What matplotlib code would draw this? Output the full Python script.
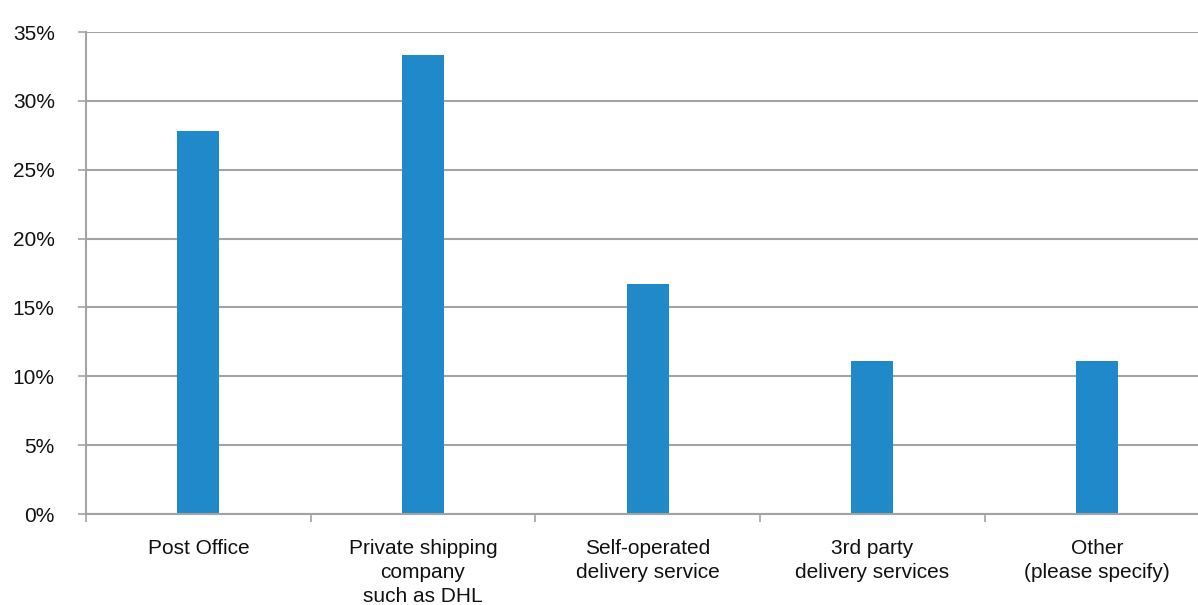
import numpy as np
import matplotlib.pyplot as plt
from matplotlib.ticker import FixedLocator, NullFormatter

# delivery method shares (percent of respondents)
categories = [
    "Post Office",
    "Private shipping\ncompany\nsuch as DHL",
    "Self-operated\ndelivery service",
    "3rd party\ndelivery services",
    "Other\n(please specify)",
]
shares = [27.8, 33.3, 16.7, 11.1, 11.1]
y_ticks = [0, 5, 10, 15, 20, 25, 30, 35]

BAR_COLOR = "#2089ca"
GRID_COLOR = "#a3a3a3"

plt.rcParams["font.family"] = ["Liberation Sans", "DejaVu Sans"]

fig = plt.figure(figsize=(11.98, 6.05), dpi=100)
# axes run a little past the right edge of the figure
ax = fig.add_axes([86 / 1198, 91 / 605, 1123.5 / 1198, 482 / 605])

x = np.arange(len(categories))
ax.bar(x, shares, width=0.187, color=BAR_COLOR, zorder=3)

ax.set_xlim(-0.5, len(categories) - 0.5)
ax.set_ylim(0, 35)

ax.set_yticks(y_ticks)
ax.set_yticklabels([f"{t}%" for t in y_ticks])
ax.yaxis.grid(True, color=GRID_COLOR, linewidth=1.5, zorder=0)
ax.tick_params(axis="y", length=5.5, width=1.2, color=GRID_COLOR,
               labelsize=15, pad=17, labelcolor="#111111")

# category boundaries get the tick marks, labels sit at the centres
ax.xaxis.set_major_locator(FixedLocator(np.arange(-0.5, len(categories) + 0.5)))
ax.xaxis.set_major_formatter(NullFormatter())
ax.set_xticks(x, minor=True)
ax.set_xticklabels(categories, minor=True, linespacing=1.35)
ax.tick_params(axis="x", which="major", length=5.5, width=1.2, color=GRID_COLOR)
ax.tick_params(axis="x", which="minor", length=0, labelsize=15, pad=18,
               labelcolor="#111111")

for side in ["top", "right"]:
    ax.spines[side].set_visible(False)
for side in ["left", "bottom"]:
    ax.spines[side].set_color(GRID_COLOR)
    ax.spines[side].set_linewidth(1.5)
    ax.spines[side].set_zorder(4)

fig.savefig("out.png", dpi=100)
